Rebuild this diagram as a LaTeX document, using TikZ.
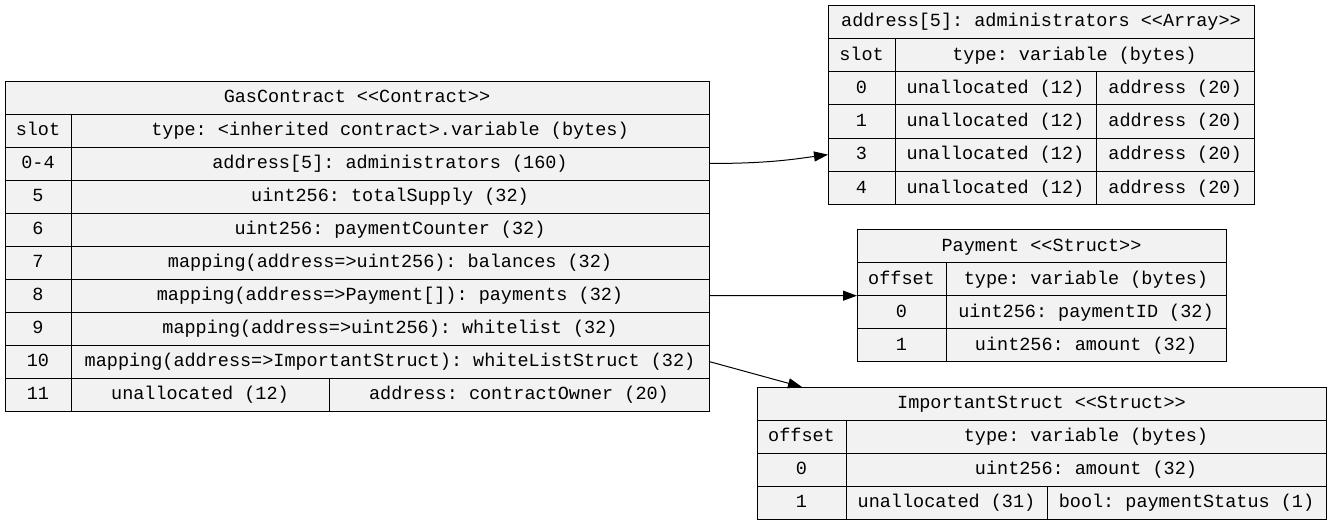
\documentclass[tikz,border=0pt]{standalone}
\usepackage{fontspec}
\newfontfamily\cellfont{Liberation Mono}
\usetikzlibrary{arrows.meta}
\definecolor{cellfill}{HTML}{F2F2F2}
\definecolor{edgeink}{HTML}{000000}
\tikzset{
  cell/.style={draw=edgeink, fill=cellfill, line width=1pt, anchor=north west,
    inner sep=0pt, outer sep=0pt,
    font=\cellfont\fontsize{18.5}{20}\selectfont\frenchspacing,
    text=black, text height=13pt, text depth=2.5pt, align=center},
  link/.style={draw=edgeink, line width=1pt, -{Triangle[length=14pt,width=10pt]}}
}
% \tcell{name}{x,y of top-left}{width}{height}{text}
\newcommand\tcell[5]{\node[cell, minimum width=#3pt, minimum height=#4pt] (#1) at (#2) {#5};}
% guillemet-free double angle brackets
\newcommand\dlt{<\kern0pt<}
\newcommand\dgt{>\kern0pt>}
\begin{document}
\begin{tikzpicture}[x=1pt,y=-1pt]
\useasboundingbox (0,0) rectangle (1331,525);

% ---- GasContract storage layout ----
\tcell{gct}{5,81}{704}{33}{GasContract \dlt Contract\dgt}
\tcell{gchs}{5,114}{66}{33}{slot}
\tcell{gchv}{71,114}{638}{33}{type: <inherited contract>.variable (bytes)}
\tcell{gc0s}{5,147}{66}{33}{0-4}
\tcell{gc0v}{71,147}{638}{33}{address[5]: administrators (160)}
\tcell{gc5s}{5,180}{66}{33}{5}
\tcell{gc5v}{71,180}{638}{33}{uint256: totalSupply (32)}
\tcell{gc6s}{5,213}{66}{33}{6}
\tcell{gc6v}{71,213}{638}{33}{uint256: paymentCounter (32)}
\tcell{gc7s}{5,246}{66}{33}{7}
\tcell{gc7v}{71,246}{638}{33}{mapping(address=\kern0pt>uint256): balances (32)}
\tcell{gc8s}{5,279}{66}{33}{8}
\tcell{gc8v}{71,279}{638}{33}{mapping(address=\kern0pt>Payment[]): payments (32)}
\tcell{gc9s}{5,312}{66}{33}{9}
\tcell{gc9v}{71,312}{638}{33}{mapping(address=\kern0pt>uint256): whitelist (32)}
\tcell{gc10s}{5,345}{66}{33}{10}
\tcell{gc10v}{71,345}{638}{33}{mapping(address=\kern0pt>ImportantStruct): whiteListStruct (32)}
\tcell{gc11s}{5,378}{66}{33}{11}
\tcell{gc11u}{71,378}{258}{33}{unallocated (12)}
\tcell{gc11v}{329,378}{380}{33}{address: contractOwner (20)}

% ---- administrators array ----
\tcell{art}{828,5}{426}{33.25}{address[5]: administrators \dlt Array\dgt}
\tcell{arhs}{828,38.25}{67}{33.25}{slot}
\tcell{arhv}{895,38.25}{359}{33.25}{type: variable (bytes)}
\tcell{ar0s}{828,71.5}{67}{33.25}{0}
\tcell{ar0u}{895,71.5}{201}{33.25}{unallocated (12)}
\tcell{ar0v}{1096,71.5}{158}{33.25}{address (20)}
\tcell{ar1s}{828,104.75}{67}{33.25}{1}
\tcell{ar1u}{895,104.75}{201}{33.25}{unallocated (12)}
\tcell{ar1v}{1096,104.75}{158}{33.25}{address (20)}
\tcell{ar3s}{828,138}{67}{33.25}{3}
\tcell{ar3u}{895,138}{201}{33.25}{unallocated (12)}
\tcell{ar3v}{1096,138}{158}{33.25}{address (20)}
\tcell{ar4s}{828,171.25}{67}{33.25}{4}
\tcell{ar4u}{895,171.25}{201}{33.25}{unallocated (12)}
\tcell{ar4v}{1096,171.25}{158}{33.25}{address (20)}

% ---- Payment struct ----
\tcell{pmt}{857,229.5}{369}{33.1}{Payment \dlt Struct\dgt}
\tcell{pmhs}{857,262.6}{89}{33.1}{offset}
\tcell{pmhv}{946,262.6}{280}{33.1}{type: variable (bytes)}
\tcell{pm0s}{857,295.7}{89}{33.1}{0}
\tcell{pm0v}{946,295.7}{280}{33.1}{uint256: paymentID (32)}
\tcell{pm1s}{857,328.8}{89}{33.1}{1}
\tcell{pm1v}{946,328.8}{280}{33.1}{uint256: amount (32)}

% ---- ImportantStruct struct ----
\tcell{ist}{757,387}{569}{33}{ImportantStruct \dlt Struct\dgt}
\tcell{ishs}{757,420}{89}{33}{offset}
\tcell{ishv}{846,420}{480}{33}{type: variable (bytes)}
\tcell{is0s}{757,453}{89}{33}{0}
\tcell{is0v}{846,453}{480}{33}{uint256: amount (32)}
\tcell{is1s}{757,486}{89}{33}{1}
\tcell{is1u}{846,486}{201}{33}{unallocated (31)}
\tcell{is1v}{1047,486}{279}{33}{bool: paymentStatus (1)}

% ---- references between layouts ----
\coordinate (istip) at (802,387);
\draw[link] (gc0v.east) .. controls (770,163.5) and (795,159) .. (ar3s.west);
\draw[link] (gc8v.east) -- (pm0s.north west);
\draw[link] (gc10v.east) -- (istip);
\end{tikzpicture}
\end{document}
